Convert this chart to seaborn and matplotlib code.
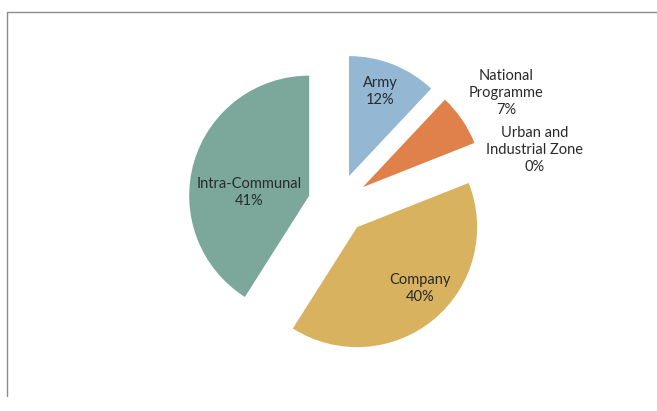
import numpy as np
import matplotlib
matplotlib.use("Agg")
import matplotlib.pyplot as plt
import seaborn as sns
from matplotlib.lines import Line2D

# ---- data ----
categories = ["Army", "National\nProgramme", "Urban and\nIndustrial Zone", "Company", "Intra-Communal"]
shares = [12, 7, 0, 40, 41]
colors = ["#94B7D4", "#E0804A", "#C0504D", "#D8B25E", "#7BA89B"]

# ---- layout (label placement: distance from centre, angular nudge in degrees) ----
explode_frac = 0.25
label_dist = [1.0, 1.68, 1.70, 0.98, 0.75]
label_nudge = [1.0, -0.75, -6.3, 4.7, 9.0]

sns.set_theme(style="white")
plt.rcParams["font.family"] = ["Lato", "DejaVu Sans"]

W, H = 657, 411
fig = plt.figure(figsize=(W / 100, H / 100), dpi=100)
ax = fig.add_axes([0, 0, 1, 1])
cx, cy, R = 338, 204, 120  # pixel centre and radius

wedges, _ = ax.pie(shares, colors=colors, startangle=90, counterclock=False,
                   explode=[explode_frac] * len(shares), radius=1.0,
                   wedgeprops=dict(linewidth=0))

total = float(sum(shares))
cum = 0.0
for i, (lab, v) in enumerate(zip(categories, shares)):
    mid = 90 - 360 * (cum + v / 2) / total + label_nudge[i]
    cum += v
    a = np.deg2rad(mid)
    d = label_dist[i]
    ax.text(d * np.cos(a), d * np.sin(a), f"{lab}\n{v}%", ha="center", va="center",
            fontsize=10.5, color="#2a2a2a", linespacing=1.3)

ax.set_xlim((0 - cx) / R, (W - cx) / R)
ax.set_ylim((cy - H) / R, cy / R)
ax.set_aspect("auto")
ax.axis("off")

# chart frame (top and left edges visible)
fig.add_artist(Line2D([7 / W, 1], [1 - 12 / H, 1 - 12 / H], color="#8c8c8c", lw=1))
fig.add_artist(Line2D([7 / W, 7 / W], [1 - 12 / H, 1 - 396 / H], color="#8c8c8c", lw=1))

fig.savefig("out.png", dpi=100)
